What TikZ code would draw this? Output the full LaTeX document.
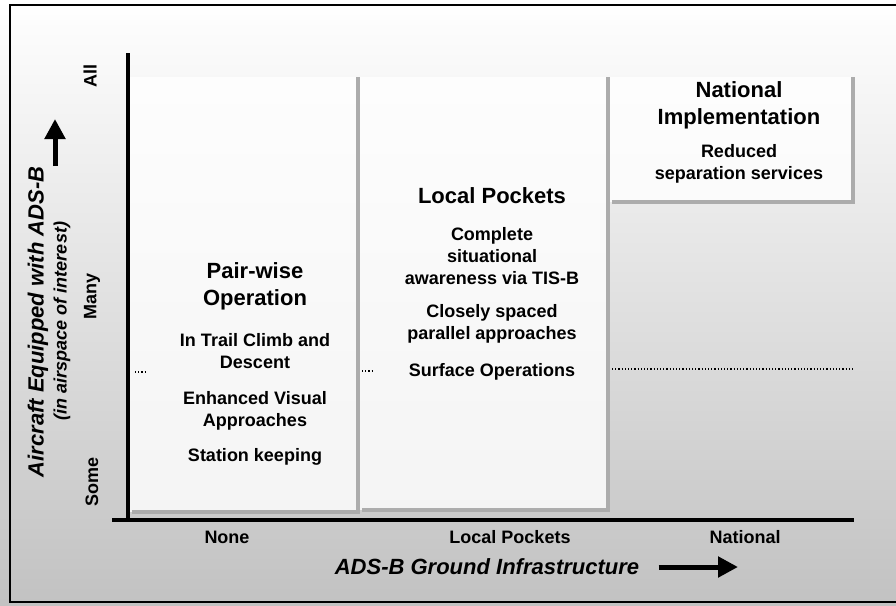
\documentclass[tikz,border=0pt]{standalone}
\usepackage{fontspec}
\setmainfont{Liberation Sans}
\usetikzlibrary{arrows.meta}

\begin{document}
\begin{tikzpicture}[x=1pt,y=-1pt,
		panel/.style={fill=white, fill opacity=0.8},
		shadow/.style={draw=gray!65, line width=4pt},
		axis/.style={line width=4pt},
		ttl/.style={font=\bfseries\fontsize{22}{27}\selectfont, align=center},
		item/.style={font=\bfseries\fontsize{18}{22}\selectfont, align=center},
		tick/.style={font=\bfseries\fontsize{18}{22}\selectfont},
		axtitle/.style={font=\bfseries\itshape\fontsize{22}{26}\selectfont},
		subtitle/.style={font=\bfseries\itshape\fontsize{18}{22}\selectfont},
		bigarrow/.style={line width=5pt, -{Triangle[width=20pt,length=20pt]}},
		level/.style={dotted, line width=1.2pt}]
	\useasboundingbox (0,0) rectangle (896,605);
	\shade[top color=white, middle color=gray!22, bottom color=gray!48] (0,0) rectangle (896,605);
	\draw[line width=2pt] (896,5) -- (10,5) -- (10,602) -- (896,602);

	% the three panels
	\fill[panel] (130,77) rectangle (358,512);
	\fill[panel] (360,77) rectangle (608,510);
	\fill[panel] (610,77) rectangle (853,202);
	\draw[shadow] (358,77) -- (358,512) -- (132,512);
	\draw[shadow] (608,77) -- (608,510) -- (362,510);
	\draw[shadow] (853,77) -- (853,202) -- (612,202);

	\draw[level] (135,372) -- (147,372);
	\draw[level] (362,371) -- (374,371);
	\draw[level] (612,369) -- (853,369);

	% axes
	\coordinate (ytop) at (128,53);
	\coordinate (origin) at (128,520);
	\coordinate (xleft) at (112,520);
	\coordinate (xright) at (854,520);
	\draw[axis] (ytop) -- (origin);
	\draw[axis] (xleft) -- (xright);

	\node[tick, rotate=90] (all) at (90,76) {All};
	\node[tick, rotate=90] (many) at (92,296) {Many};
	\node[tick, rotate=90] (some) at (92,482) {Some};
	\node[axtitle, rotate=90] (ytitle) at (38,322) {Aircraft Equipped with ADS-B};
	\node[subtitle, rotate=90] (ysub) at (62,321) {(in airspace of interest)};
	\coordinate (ytail) at (55,166);
	\coordinate (yhead) at (55,119);
	\draw[bigarrow] (ytail) -- (yhead);

	\node[tick] (none) at (227,537) {None};
	\node[tick] (local) at (510,537) {Local Pockets};
	\node[tick] (national) at (745,537) {National};
	\node[axtitle] (xtitle) at (487,567) {ADS-B Ground Infrastructure};
	\coordinate (xhead) at (738,567);
	\draw[bigarrow] (xtitle.east) ++(16,0) -- (xhead);

	% panel texts
	\node[ttl] (pairwise) at (255,286) {Pair-wise\\Operation};
	\node[item] (trail) at (255,351) {In Trail Climb and\\Descent};
	\node[item] (visual) at (255,411) {Enhanced Visual\\Approaches};
	\node[item] (station) at (255,457) {Station keeping};

	\node[ttl] (pockets) at (492,196) {Local Pockets};
	\node[item] (tisb) at (492,256) {Complete\\situational\\awareness via TIS-B};
	\node[item] (parallel) at (492,324) {Closely spaced\\parallel approaches};
	\node[item] (surface) at (492,372) {Surface Operations};

	\node[ttl] (impl) at (739,105) {National\\Implementation};
	\node[item] (reduced) at (739,164) {Reduced\\separation services};
\end{tikzpicture}
\end{document}
